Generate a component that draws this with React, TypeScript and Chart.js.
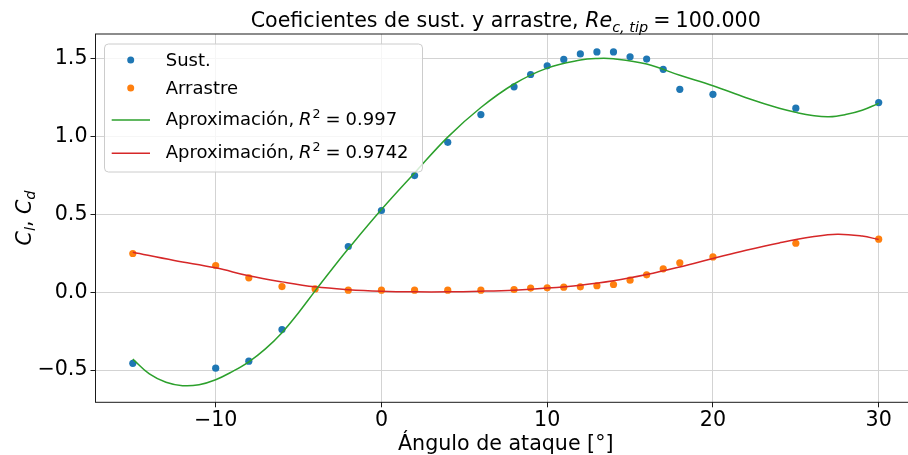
import React, { useEffect, useRef } from 'react';
import { Chart, registerables } from 'chart.js';

Chart.register(...registerables);

// ---------- data ----------
const X_TICKS = [-10, 0, 10, 20, 30];
const Y_TICKS = [-0.5, 0, 0.5, 1.0, 1.5];

const SUST_X = [-15, -10, -8, -6, -2, 0, 2, 4, 6, 8, 9, 10, 11, 12, 13, 14, 15, 16, 17, 18, 20, 25, 30];
const SUST_Y = [-0.457, -0.488, -0.443, -0.24, 0.293, 0.524, 0.748, 0.962, 1.14, 1.318, 1.397, 1.453, 1.494, 1.529, 1.542, 1.542, 1.511, 1.496, 1.43, 1.302, 1.27, 1.181, 1.217];

const ARR_X = [-15, -10, -8, -6, -4, -2, 0, 2, 4, 6, 8, 9, 10, 11, 12, 13, 14, 15, 16, 17, 18, 20, 25, 30];
const ARR_Y = [0.248, 0.171, 0.092, 0.036, 0.021, 0.013, 0.013, 0.013, 0.013, 0.013, 0.017, 0.026, 0.028, 0.032, 0.034, 0.041, 0.049, 0.077, 0.111, 0.15, 0.188, 0.226, 0.314, 0.34];

const FIT_L_X = [-15, -14, -13, -12, -11, -10, -9, -8, -7, -6, -5, -4, -3, -2, 0, 2, 4, 6, 8, 10, 12, 13, 14, 16, 18, 20, 22, 24, 25, 26, 27, 28, 29, 30];
const FIT_L_Y = [-0.43, -0.525, -0.578, -0.6, -0.594, -0.562, -0.51, -0.447, -0.364, -0.26, -0.132, 0.008, 0.145, 0.278, 0.53, 0.765, 0.995, 1.185, 1.336, 1.438, 1.49, 1.5, 1.498, 1.464, 1.392, 1.325, 1.248, 1.18, 1.154, 1.134, 1.126, 1.14, 1.168, 1.212];

const FIT_D_X = [-15, -12.5, -10, -8, -6, -4, -2, 0, 2, 4, 6, 8, 10, 12, 14, 16, 18, 20, 22, 24, 26, 27.5, 29, 30];
const FIT_D_Y = [0.256, 0.203, 0.156, 0.105, 0.066, 0.034, 0.016, 0.006, 0.002, 0.002, 0.006, 0.013, 0.026, 0.045, 0.073, 0.113, 0.162, 0.216, 0.269, 0.316, 0.355, 0.372, 0.36, 0.338];

const LABEL_SUST = 'Sust.';
const LABEL_ARR = 'Arrastre';
const LABEL_FIT = 'Aproximación, ';
const R2_LIFT = '0.997';
const R2_DRAG = '0.9742';

const X_MIN = -17.25;
const X_MAX = 32.25;
const Y_MIN = -0.707;
const Y_MAX = 1.657;

const C_BLUE = '#1f77b4';
const C_ORANGE = '#ff7f0e';
const C_GREEN = '#2ca02c';
const C_RED = '#d62728';

const FAM = '"DejaVu Sans"';
const FS = 20.6;
const LFS = 18;

type Run = { t: string; font: string; dy?: number; gap?: number };

function runsWidth(ctx: CanvasRenderingContext2D, runs: Run[]) {
  let w = 0;
  for (const r of runs) {
    ctx.font = r.font;
    w += (r.gap || 0) + ctx.measureText(r.t).width;
  }
  return w;
}
function drawRuns(ctx: CanvasRenderingContext2D, runs: Run[], x: number, y: number) {
  let cx = x;
  for (const r of runs) {
    cx += r.gap || 0;
    ctx.font = r.font;
    ctx.fillText(r.t, cx, y + (r.dy || 0));
    cx += ctx.measureText(r.t).width;
  }
}

const nf = (s: number) => `${s}px ${FAM}`;
const itf = (s: number) => `italic ${s}px ${FAM}`;

const overlay = {
  id: 'overlay',
  afterDraw(chart: any) {
    const { ctx, chartArea: a } = chart;
    ctx.save();
    ctx.fillStyle = '#000';
    ctx.textAlign = 'left';
    ctx.textBaseline = 'alphabetic';

    // frame
    ctx.strokeStyle = '#1a1a1a';
    ctx.lineWidth = 1;
    ctx.strokeRect(a.left, a.top, a.right - a.left, a.bottom - a.top);

    const cx = (a.left + a.right) / 2;

    // title
    const title: Run[] = [
      { t: 'Coeficientes de sust. y arrastre, ', font: nf(FS) },
      { t: 'Re', font: itf(FS) },
      { t: 'c, tip', font: itf(FS * 0.7), dy: 4.5 },
      { t: '=', font: nf(FS), gap: FS * 0.25 },
      { t: '100.000', font: nf(FS), gap: FS * 0.25 },
    ];
    const tw = runsWidth(ctx, title);
    drawRuns(ctx, title, cx - tw / 2, 27);

    // x label
    ctx.font = nf(FS);
    const xl = 'Ángulo de ataque [°]';
    const xw = ctx.measureText(xl).width;
    ctx.fillText(xl, cx - xw / 2, 450);

    // y label
    const yl: Run[] = [
      { t: 'C', font: itf(FS) },
      { t: 'l', font: itf(FS * 0.7), dy: 4 },
      { t: ', ', font: nf(FS) },
      { t: 'C', font: itf(FS) },
      { t: 'd', font: itf(FS * 0.7), dy: 4 },
    ];
    const yw = runsWidth(ctx, yl);
    ctx.save();
    ctx.translate(30.5, 218);
    ctx.rotate(-Math.PI / 2);
    drawRuns(ctx, yl, -yw / 2, 0);
    ctx.restore();

    // legend
    const bx = 104.5, by = 44, bw = 318, bh = 128;
    ctx.beginPath();
    ctx.roundRect(bx, by, bw, bh, 4);
    ctx.fillStyle = 'rgba(255,255,255,0.8)';
    ctx.fill();
    ctx.strokeStyle = '#cccccc';
    ctx.lineWidth = 1;
    ctx.stroke();

    const mx = 130.7, tx = 165.7;
    ctx.fillStyle = C_BLUE;
    ctx.beginPath(); ctx.arc(mx, 60, 3.5, 0, Math.PI * 2); ctx.fill();
    ctx.fillStyle = C_ORANGE;
    ctx.beginPath(); ctx.arc(mx, 88, 3.5, 0, Math.PI * 2); ctx.fill();
    ctx.lineWidth = 1.5;
    ctx.strokeStyle = C_GREEN;
    ctx.beginPath(); ctx.moveTo(111.7, 120); ctx.lineTo(150, 120); ctx.stroke();
    ctx.strokeStyle = C_RED;
    ctx.beginPath(); ctx.moveTo(111.7, 153.3); ctx.lineTo(150, 153.3); ctx.stroke();

    ctx.fillStyle = '#000';
    ctx.font = nf(LFS);
    ctx.fillText(LABEL_SUST, tx, 65.7);
    ctx.fillText(LABEL_ARR, tx, 94.3);
    const fitRuns = (r2: string): Run[] => [
      { t: LABEL_FIT, font: nf(LFS) },
      { t: 'R', font: itf(LFS), gap: -1 },
      { t: '2', font: nf(LFS * 0.7), dy: -7.5, gap: 1 },
      { t: '=', font: nf(LFS), gap: LFS * 0.28 },
      { t: r2, font: nf(LFS), gap: LFS * 0.28 },
    ];
    drawRuns(ctx, fitRuns(R2_LIFT), tx, 125);
    drawRuns(ctx, fitRuns(R2_DRAG), tx, 158.3);

    ctx.restore();
  },
};

const fmtMinus = (s: string) => s.replace('-', '\u2212');

export default function App() {
  const ref = useRef<HTMLCanvasElement>(null);
  useEffect(() => {
    const toPts = (xs: number[], ys: number[]) => xs.map((x, i) => ({ x, y: ys[i] }));
    const gridOpts = {
      color: '#d3d3d3',
      lineWidth: 1,
      tickLength: 5,
      tickColor: '#1a1a1a',
      tickWidth: 1,
      drawTicks: true,
    };
    const chart = new Chart(ref.current!, {
      type: 'scatter',
      data: {
        datasets: [
          { label: LABEL_SUST, data: toPts(SUST_X, SUST_Y), showLine: false, pointRadius: 3.6, pointBackgroundColor: C_BLUE, pointBorderWidth: 0, borderColor: C_BLUE, order: 2 },
          { label: LABEL_ARR, data: toPts(ARR_X, ARR_Y), showLine: false, pointRadius: 3.6, pointBackgroundColor: C_ORANGE, pointBorderWidth: 0, borderColor: C_ORANGE, order: 2 },
          { label: LABEL_FIT + R2_LIFT, data: toPts(FIT_L_X, FIT_L_Y), showLine: true, pointRadius: 0, borderColor: C_GREEN, borderWidth: 1.5, tension: 0.4, order: 1 },
          { label: LABEL_FIT + R2_DRAG, data: toPts(FIT_D_X, FIT_D_Y), showLine: true, pointRadius: 0, borderColor: C_RED, borderWidth: 1.5, tension: 0.4, order: 1 },
        ] as any,
      },
      options: {
        responsive: false,
        animation: false,
        devicePixelRatio: 1,
        layout: { padding: { top: 34, right: 1, left: 0, bottom: 0 } },
        plugins: { legend: { display: false }, title: { display: false }, tooltip: { enabled: false } },
        scales: {
          x: {
            type: 'linear',
            min: X_MIN,
            max: X_MAX,
            afterBuildTicks: (s: any) => { s.ticks = X_TICKS.map((v) => ({ value: v })); },
            afterFit: (s: any) => { s.height = 455 - 402.3; },
            grid: gridOpts,
            border: { display: false },
            ticks: {
              color: '#000',
              font: { family: 'DejaVu Sans', size: FS },
              padding: 1,
              maxRotation: 0,
              autoSkip: false,
              callback: (v: any) => fmtMinus(String(v)),
            },
          },
          y: {
            type: 'linear',
            min: Y_MIN,
            max: Y_MAX,
            afterBuildTicks: (s: any) => { s.ticks = Y_TICKS.map((v) => ({ value: v })); },
            afterFit: (s: any) => { s.width = 95.5; },
            grid: gridOpts,
            border: { display: false },
            ticks: {
              color: '#000',
              font: { family: 'DejaVu Sans', size: FS },
              padding: 3,
              autoSkip: false,
              callback: (v: any) => fmtMinus(Number(v).toFixed(1)),
            },
          },
        },
      } as any,
      plugins: [overlay],
    });
    return () => chart.destroy();
  }, []);
  return (
    <div style={{ position: 'fixed', left: 0, top: 0, width: 908, height: 455, overflow: 'hidden', background: '#fff' }}>
      <canvas ref={ref} width={920} height={455} style={{ display: 'block', width: 920, height: 455 }} />
    </div>
  );
}
